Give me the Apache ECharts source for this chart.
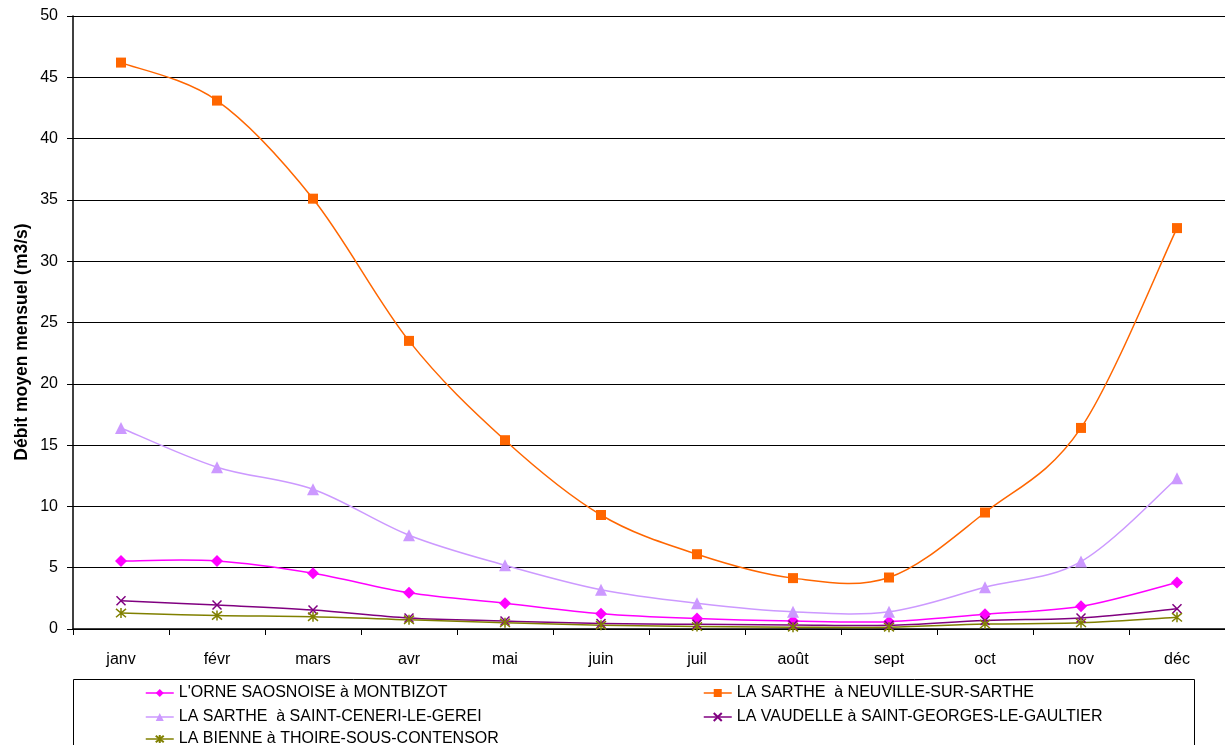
<!DOCTYPE html>
<html>
<head>
<meta charset="utf-8">
<script src="https://cdn.jsdelivr.net/npm/echarts@6/dist/echarts.min.js"></script>
<style>
  html, body { margin: 0; padding: 0; background: #fff; }
  #chart { width: 1225px; height: 745px; }
</style>
</head>
<body>
<div id="chart"></div>
<script>
// Débits moyens mensuels (m3/s) par station
const months = ['janv', 'févr', 'mars', 'avr', 'mai', 'juin', 'juil', 'août', 'sept', 'oct', 'nov', 'déc'];

const orneMontbizot    = [5.55, 5.55, 4.55, 2.95, 2.1, 1.25, 0.85, 0.65, 0.6, 1.2, 1.85, 3.8];
const sartheNeuville   = [46.2, 43.1, 35.1, 23.5, 15.4, 9.3, 6.1, 4.15, 4.2, 9.5, 16.4, 32.7];
const sartheCeneri     = [16.4, 13.2, 11.4, 7.65, 5.2, 3.2, 2.1, 1.4, 1.4, 3.4, 5.5, 12.3];
const vaudelleGaultier = [2.3, 1.95, 1.55, 0.9, 0.65, 0.45, 0.38, 0.33, 0.3, 0.7, 0.9, 1.65];
const bienneThoire     = [1.3, 1.1, 1.0, 0.75, 0.5, 0.3, 0.2, 0.15, 0.15, 0.4, 0.5, 0.95];

const names = [
  "L'ORNE SAOSNOISE à MONTBIZOT",
  'LA SARTHE  à NEUVILLE-SUR-SARTHE',
  'LA SARTHE  à SAINT-CENERI-LE-GEREI',
  'LA VAUDELLE à SAINT-GEORGES-LE-GAULTIER',
  'LA BIENNE à THOIRE-SOUS-CONTENSOR'
];
const yTitle = 'Débit moyen mensuel (m3/s)';

const FONT = "'Liberation Sans', Arial, sans-serif";
const crossPath = 'path://M0,0L10,10M10,0L0,10';
const starPath = 'path://M0,0L10,10M10,0L0,10M5,-1L5,11';
const LINE_W = 1.5;

// Markers (and legend entries) for each station
function markerSeries(name, data, color, symbol, size, stroke) {
  return {
    name: name,
    type: 'line',
    data: data,
    symbol: symbol,
    symbolSize: size,
    showSymbol: true,
    lineStyle: { color: color, width: LINE_W, opacity: 0 },
    itemStyle: stroke
      ? { color: color, borderColor: color, borderWidth: 1.5 }
      : { color: color, borderWidth: 0 },
    emphasis: { disabled: true },
    z: 4
  };
}

// Smoothed curve through the monthly values (cardinal spline, 1/6 tangents)
function curveSeries(key, data, color) {
  const idx = data.slice(0, -1).map((v, i) => i);
  return {
    name: key,
    type: 'custom',
    data: idx,
    silent: true,
    z: 3,
    renderItem: function (params, api) {
      const i = params.dataIndex;
      const n = data.length;
      const P = k => {
        const j = Math.max(0, Math.min(n - 1, k));
        return api.coord([j, data[j]]);
      };
      const p0 = P(i - 1), p1 = P(i), p2 = P(i + 1), p3 = P(i + 2);
      const c1 = [p1[0] + (p2[0] - p0[0]) / 6, p1[1] + (p2[1] - p0[1]) / 6];
      const c2 = [p2[0] - (p3[0] - p1[0]) / 6, p2[1] - (p3[1] - p1[1]) / 6];
      return {
        type: 'bezierCurve',
        shape: { x1: p1[0], y1: p1[1], x2: p2[0], y2: p2[1],
                 cpx1: c1[0], cpy1: c1[1], cpx2: c2[0], cpy2: c2[1] },
        style: { stroke: color, lineWidth: LINE_W, fill: null }
      };
    }
  };
}

const colors = ['#FF00FF', '#FF6600', '#CC99FF', '#800080', '#808000'];

function legendItem(i, left, top) {
  return {
    left: left, top: top,
    orient: 'horizontal',
    itemWidth: 28,
    itemHeight: 10,
    padding: 0,
    selectedMode: false,
    textStyle: { fontFamily: FONT, fontSize: 16, color: '#000' },
    data: [{ name: names[i], lineStyle: { color: colors[i], width: LINE_W, opacity: 1 } }]
  };
}

const chart = echarts.init(document.getElementById('chart'), null, { renderer: 'canvas' });

chart.setOption({
  animation: false,
  backgroundColor: '#fff',
  grid: { left: 73, right: 0, top: 16, bottom: 116, containLabel: false },
  xAxis: {
    type: 'category',
    data: months,
    boundaryGap: true,
    axisLine: { lineStyle: { color: '#000', width: 1.5 } },
    axisTick: { show: true, length: 6, lineStyle: { color: '#000' } },
    axisLabel: { fontFamily: FONT, fontSize: 16, color: '#000', margin: 23 }
  },
  yAxis: {
    type: 'value',
    min: 0,
    max: 50,
    interval: 5,
    axisLine: { show: true, lineStyle: { color: '#000', width: 1.5 } },
    axisTick: { show: true, length: 6, lineStyle: { color: '#000' } },
    axisLabel: { fontFamily: FONT, fontSize: 16, color: '#000', margin: 15 },
    splitLine: { show: true, lineStyle: { color: '#000', width: 1 } }
  },
  legend: [
    legendItem(0, 145, 685),
    legendItem(2, 145, 709),
    legendItem(4, 145, 731),
    legendItem(1, 703, 685),
    legendItem(3, 703, 709)
  ],
  graphic: [{
    type: 'rect',
    shape: { x: 73.5, y: 679.5, width: 1121, height: 90 },
    style: { fill: 'none', stroke: '#000', lineWidth: 1 },
    silent: true,
    z: 0
  }, {
    type: 'text',
    x: 22,
    y: 342,
    rotation: Math.PI / 2,
    silent: true,
    style: {
      text: yTitle,
      fontFamily: FONT,
      fontSize: 17.5,
      fontWeight: 'bold',
      fill: '#000',
      textAlign: 'center',
      textVerticalAlign: 'middle'
    }
  }],
  series: [
    curveSeries('c0', orneMontbizot, colors[0]),
    curveSeries('c1', sartheNeuville, colors[1]),
    curveSeries('c2', sartheCeneri, colors[2]),
    curveSeries('c3', vaudelleGaultier, colors[3]),
    curveSeries('c4', bienneThoire, colors[4]),
    markerSeries(names[0], orneMontbizot, colors[0], 'diamond', 12, false),
    markerSeries(names[1], sartheNeuville, colors[1], 'rect', 10, false),
    markerSeries(names[2], sartheCeneri, colors[2], 'triangle', 12, false),
    markerSeries(names[3], vaudelleGaultier, colors[3], crossPath, 9, true),
    markerSeries(names[4], bienneThoire, colors[4], starPath, 10, true)
  ]
});
</script>
</body>
</html>
